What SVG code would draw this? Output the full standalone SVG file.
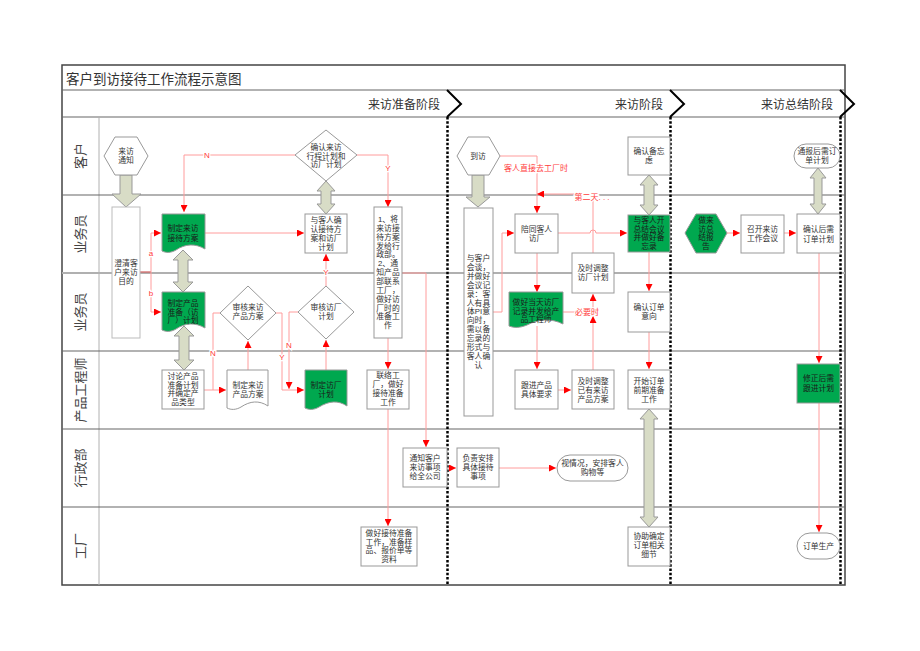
<svg xmlns="http://www.w3.org/2000/svg" width="920" height="651" viewBox="0 0 920 651">
<defs>
<marker id="ah" viewBox="0 0 10 10" refX="10" refY="5" markerWidth="7" markerHeight="7" orient="auto" markerUnits="userSpaceOnUse"><path d="M0,0 L10,5 L0,10 z" fill="#ff0000"/></marker>
<style>
text{font-family:"Liberation Sans","Noto Sans CJK SC",sans-serif;}
.t{font-size:7.8px;fill:#333;text-anchor:middle;}
.tg{font-size:7.8px;fill:#1a1a1a;text-anchor:middle;}
.box{fill:#fff;stroke:#999;stroke-width:1;}
.grn{fill:#00a84f;stroke:#999;stroke-width:1;}
.lane{stroke:#666;stroke-width:1.2;}
.lanel{stroke:#b0b0b0;stroke-width:2;}
.ll{font-size:13px;fill:#444;text-anchor:middle;dominant-baseline:central;}
.ph{font-size:12px;fill:#333;text-anchor:end;}
.sep{stroke:#000;stroke-width:2.5;stroke-dasharray:2.5 1.8;fill:none;}
.chev{stroke:#000;stroke-width:2;fill:none;}
.c{fill:none;stroke:#ff9c9c;stroke-width:1;}
.ca{fill:none;stroke:#ff9c9c;stroke-width:1;marker-end:url(#ah);}
.lb{font-size:8px;fill:#ff3b3b;text-anchor:middle;stroke:#fff;stroke-width:2.5;paint-order:stroke;}
.blk{fill:#d8dcc6;stroke:#999;stroke-width:1;}
</style>
</defs>
<rect x="0" y="0" width="920" height="651" fill="#fff"/>

<g id="frame">
<rect x="62" y="65" width="783" height="520" fill="none" stroke="#444" stroke-width="1.5"/>
<text x="66" y="84" style="font-size:13.5px;fill:#333;">客户到访接待工作流程示意图</text>
<line x1="62" y1="90" x2="845" y2="90" class="lane"/>
<line x1="62" y1="117" x2="845" y2="117" class="lane"/>
<text x="440" y="109" class="ph">来访准备阶段</text>
<text x="663" y="109" class="ph">来访阶段</text>
<text x="833" y="109" class="ph">来访总结阶段</text>
<path class="chev" d="M447,90 L461,104 L447,117"/>
<path class="chev" d="M670,90 L684,104 L670,117"/>
<path class="chev" d="M840,90 L854,104 L840,117"/>
</g>

<g id="lanes">
<line x1="99" y1="117" x2="99" y2="585" stroke="#b0b0b0" stroke-width="1"/>
<line x1="62" y1="195" x2="845" y2="195" class="lane"/>
<line x1="62" y1="273" x2="845" y2="273" class="lanel"/>
<line x1="62" y1="351" x2="845" y2="351" class="lane"/>
<line x1="62" y1="429" x2="845" y2="429" class="lane"/>
<line x1="62" y1="507" x2="845" y2="507" class="lane"/>
<text class="ll" transform="translate(80,156) rotate(-90)">客户</text>
<text class="ll" transform="translate(80,234) rotate(-90)">业务员</text>
<text class="ll" transform="translate(80,312) rotate(-90)">业务员</text>
<text class="ll" transform="translate(80,390) rotate(-90)">产品工程师</text>
<text class="ll" transform="translate(80,468) rotate(-90)">行政部</text>
<text class="ll" transform="translate(80,546) rotate(-90)">工厂</text>
<line class="sep" x1="447.5" y1="117" x2="447.5" y2="585"/>
<line class="sep" x1="670.5" y1="117" x2="670.5" y2="585"/>
<line class="sep" x1="840.5" y1="117" x2="840.5" y2="585"/>
</g>

<g id="block-arrows">
<polygon class="blk" points="120,175 132,175 132,194 141,194 126,207 112,194 120,194"/>
<polygon class="blk" points="326,181 335,191 331,191 331,204 335,204 326,214 317,204 321,204 321,191 317,191"/>
<polygon class="blk" points="183,250 193,260 188,260 188,282 193,282 183,292 173,282 178,282 178,260 173,260"/>
<polygon class="blk" points="184,326 194,336 189,336 189,360 194,360 184,370 174,360 179,360 179,336 174,336"/>
<polygon class="blk" points="472,175 484,175 484,197 490,197 478,207 466,197 472,197"/>
<polygon class="blk" points="649,175 658,185 654,185 654,205 658,205 649,215 640,205 644,205 644,185 640,185"/>
<polygon class="blk" points="818,168 826,178 822,178 822,204 826,204 818,214 810,204 814,204 814,178 810,178"/>
<polygon class="blk" points="649,409 658,419 654,419 654,517 658,517 649,527 640,517 644,517 644,419 640,419"/>
</g>

<g id="connectors">
<path class="ca" d="M295,155 H184 V212"/>
<text class="lb" x="207" y="158">N</text>
<path class="ca" d="M357,155 H388 V207"/>
<text class="lb" x="388" y="171">Y</text>
<path d="M140,272 H151" fill="none" stroke="#d06060" stroke-width="1.2"/>
<path class="ca" d="M151,272 V233 H161"/>
<path class="ca" d="M151,272 V312 H161"/>
<text class="lb" x="151" y="256">a</text>
<text class="lb" x="151" y="296">b</text>
<path class="ca" d="M205,233 H304"/>
<path class="c" d="M220,313 H213 V390"/>
<path class="ca" d="M204,390 H226"/>
<text class="lb" x="213" y="356">N</text>
<path class="ca" d="M276,313 H282 V390 H304"/>
<text class="lb" x="282" y="360">Y</text>
<path class="ca" d="M298,312 H289 V389"/>
<text class="lb" x="289" y="348">N</text>
<path class="ca" d="M248,370 V341"/>
<path class="ca" d="M326,370 V340"/>
<path class="ca" d="M326,286 V254"/>
<text class="lb" x="326" y="275">Y</text>
<path class="ca" d="M402,273 H426 V447"/>
<path class="ca" d="M388,338 V369"/>
<path class="ca" d="M388,409 V526"/>
<path class="ca" d="M447,468 H456"/>
<path class="ca" d="M499,468 H556"/>
<path class="ca" d="M500,156 H537 V213"/>
<text class="lb" x="536" y="171">客人直接去工厂时</text>
<path class="ca" d="M593,253 V194 H537"/>
<text class="lb" x="592" y="200">第二天. . .</text>
<path class="ca" d="M493,312 H502 V233 H514"/>
<path class="ca" d="M558,233 H590 A3,3 0 0 1 596,233 H627"/>
<path class="ca" d="M537,253 V292"/>
<path class="ca" d="M537,326 V369"/>
<path class="ca" d="M563,312 H593 V294"/>
<path class="ca" d="M593,370 V316"/>
<text class="lb" x="587" y="315">必要时</text>
<path class="ca" d="M558,390 H571"/>
<path class="ca" d="M649,252 V291"/>
<path class="ca" d="M649,332 V369"/>
<path class="ca" d="M727,233 H740"/>
<path class="ca" d="M784,233 H796"/>
<path class="ca" d="M819,253 V363"/>
<path class="ca" d="M819,403 V532"/>
</g>

<g id="n1"><polygon class="box" points="104,156 115,137 137,137 148,156 137,175 115,175"/>
<text class="t" x="126" y="154"><tspan x="126">来访</tspan><tspan x="126" dy="9">通知</tspan></text></g>

<g id="n2"><polygon class="box" points="326,130 357,155 326,181 295,155"/>
<text class="t" x="326" y="150"><tspan x="326">确认来访</tspan><tspan x="326" dy="8.7">行程计划和</tspan><tspan x="326" dy="8.7">访厂计划</tspan></text></g>

<g id="n3"><polygon class="box" points="457,156 468,137 489,137 500,156 489,175 468,175"/>
<text class="t" x="478" y="159">到访</text></g>

<g id="n4"><rect class="box" x="628" y="137" width="42" height="38"/>
<text class="t" x="649" y="154"><tspan x="649">确认备忘</tspan><tspan x="649" dy="9">虑</tspan></text></g>

<g id="n5"><rect class="box" x="794" y="144" width="46" height="24" rx="12"/>
<text class="t" x="817" y="154"><tspan x="817">通报后需订</tspan><tspan x="817" dy="8.5">单计划</tspan></text></g>

<g id="n6"><rect x="112" y="207" width="28" height="131" fill="#fff" stroke="#bbb"/>
<text class="t" x="126" y="266"><tspan x="126">澄清客</tspan><tspan x="126" dy="9">户来访</tspan><tspan x="126" dy="9">目的</tspan></text></g>

<g id="n7"><path class="grn" d="M162,214 H205 V249 C195,243 185,244 176,250 C171,253 166,253 162,251 Z"/>
<text class="tg" x="183" y="231"><tspan x="183">制定来访</tspan><tspan x="183" dy="9.5">接待方案</tspan></text></g>

<g id="n8"><rect class="box" x="305" y="214" width="42" height="39"/>
<text class="t" x="326" y="223"><tspan x="326">与客人确</tspan><tspan x="326" dy="9">认接待方</tspan><tspan x="326" dy="9">案和访厂</tspan><tspan x="326" dy="9">计划</tspan></text></g>

<g id="n9"><rect class="box" x="374" y="207" width="28" height="131"/>
<text class="t" x="388" y="222"><tspan x="388">1、将</tspan><tspan x="388" dy="8.85">来访接</tspan><tspan x="388" dy="8.85">待方案</tspan><tspan x="388" dy="8.85">发给行</tspan><tspan x="388" dy="8.85">政部。</tspan><tspan x="388" dy="8.85">2、通</tspan><tspan x="388" dy="8.85">知产品</tspan><tspan x="388" dy="8.85">部联系</tspan><tspan x="388" dy="8.85">工厂，</tspan><tspan x="388" dy="8.85">做好访</tspan><tspan x="388" dy="8.85">厂时的</tspan><tspan x="388" dy="8.85">准备工</tspan><tspan x="388" dy="8.85">作</tspan></text></g>

<g id="n10"><path class="grn" d="M162,292 H205 V328 C195,322 185,323 176,329 C171,332 166,332 162,330 Z"/>
<text class="tg" x="183" y="306"><tspan x="183">制定产品</tspan><tspan x="183" dy="8.7">准备（访</tspan><tspan x="183" dy="8.7">厂）计划</tspan></text></g>

<g id="n11"><polygon class="box" points="248,286 276,313 248,340 220,313"/>
<text class="t" x="248" y="310"><tspan x="248">审核来访</tspan><tspan x="248" dy="9">产品方案</tspan></text></g>

<g id="n12"><polygon class="box" points="326,286 354,312 326,339 298,312"/>
<text class="t" x="326" y="310"><tspan x="326">审核访厂</tspan><tspan x="326" dy="9">计划</tspan></text></g>

<g id="n13"><rect class="box" x="162" y="370" width="42" height="39"/>
<text class="t" x="183" y="379"><tspan x="183">讨论产品</tspan><tspan x="183" dy="8.7">准备计划</tspan><tspan x="183" dy="8.7">并确定产</tspan><tspan x="183" dy="8.7">品类型</tspan></text></g>

<g id="n14"><path class="box" d="M227,370 H268 V406 C259,400 250,401 241,407 C236,410 231,410 227,408 Z"/>
<text class="t" x="248" y="388"><tspan x="248">制定来访</tspan><tspan x="248" dy="8.7">产品方案</tspan></text></g>

<g id="n15"><path class="grn" d="M305,370 H347 V406 C338,400 329,401 319,407 C314,410 309,410 305,408 Z"/>
<text class="tg" x="326" y="388"><tspan x="326">制定访厂</tspan><tspan x="326" dy="8.7">计划</tspan></text></g>

<g id="n16"><rect class="box" x="367" y="370" width="42" height="39"/>
<text class="t" x="388" y="378"><tspan x="388">联络工</tspan><tspan x="388" dy="9">厂，做好</tspan><tspan x="388" dy="9">接待准备</tspan><tspan x="388" dy="9">工作</tspan></text></g>

<g id="n17"><rect class="box" x="403" y="448" width="44" height="39"/>
<text class="t" x="425" y="461"><tspan x="425">通知客户</tspan><tspan x="425" dy="9">来访事项</tspan><tspan x="425" dy="9">给全公司</tspan></text></g>

<g id="n18"><rect class="box" x="361" y="527" width="56" height="39"/>
<text class="t" x="389" y="536"><tspan x="389">做好接待准备</tspan><tspan x="389" dy="8.7">工作，准备样</tspan><tspan x="389" dy="8.7">品、报价单等</tspan><tspan x="389" dy="8.7">资料</tspan></text></g>

<g id="n19"><rect class="box" x="464" y="208" width="29" height="208"/>
<text class="t" x="478.5" y="261"><tspan x="478.5">与客户</tspan><tspan x="478.5" dy="8.9">会谈，</tspan><tspan x="478.5" dy="8.9">并做好</tspan><tspan x="478.5" dy="8.9">会议记</tspan><tspan x="478.5" dy="8.9">录：客</tspan><tspan x="478.5" dy="8.9">人有具</tspan><tspan x="478.5" dy="8.9">体PI意</tspan><tspan x="478.5" dy="8.9">向时，</tspan><tspan x="478.5" dy="8.9">需以备</tspan><tspan x="478.5" dy="8.9">忘录的</tspan><tspan x="478.5" dy="8.9">形式与</tspan><tspan x="478.5" dy="8.9">客人确</tspan><tspan x="478.5" dy="8.9">认</tspan></text></g>

<g id="n20"><rect class="box" x="515" y="214" width="43" height="39"/>
<text class="t" x="536.5" y="232"><tspan x="536.5">陪同客人</tspan><tspan x="536.5" dy="9">访厂</tspan></text></g>

<g id="n21"><rect class="grn" x="628" y="215" width="42" height="37"/>
<text class="tg" x="649" y="223"><tspan x="649">与客人开</tspan><tspan x="649" dy="8.7">总结会议</tspan><tspan x="649" dy="8.7">并做好备</tspan><tspan x="649" dy="8.7">忘录</tspan></text></g>

<g id="n22"><rect class="box" x="572" y="253" width="42" height="40"/>
<text class="t" x="593" y="271"><tspan x="593">及时调整</tspan><tspan x="593" dy="9">访厂计划</tspan></text></g>

<g id="n23"><path class="grn" d="M509,292 H563 V324 C551,318 539,319 527,325 C520,328 514,328 509,326 Z"/>
<text class="tg" x="536" y="305"><tspan x="536">做好当天访厂</tspan><tspan x="536" dy="8.7">记录并发给产</tspan><tspan x="536" dy="8.7">品工程师</tspan></text></g>

<g id="n24"><rect class="box" x="515" y="370" width="43" height="39"/>
<text class="t" x="536.5" y="388"><tspan x="536.5">跟进产品</tspan><tspan x="536.5" dy="9">具体要求</tspan></text></g>

<g id="n25"><rect class="box" x="572" y="370" width="42" height="39"/>
<text class="t" x="593" y="384"><tspan x="593">及时调整</tspan><tspan x="593" dy="9">已有来访</tspan><tspan x="593" dy="9">产品方案</tspan></text></g>

<g id="n26"><rect class="box" x="628" y="292" width="42" height="40"/>
<text class="t" x="649" y="310"><tspan x="649">确认订单</tspan><tspan x="649" dy="9">意向</tspan></text></g>

<g id="n27"><rect class="box" x="628" y="370" width="42" height="39"/>
<text class="t" x="649" y="384"><tspan x="649">开始订单</tspan><tspan x="649" dy="9">前期准备</tspan><tspan x="649" dy="9">工作</tspan></text></g>

<g id="n28"><rect class="box" x="457" y="448" width="42" height="39"/>
<text class="t" x="478" y="461"><tspan x="478">负责安排</tspan><tspan x="478" dy="9">具体接待</tspan><tspan x="478" dy="9">事项</tspan></text></g>

<g id="n29"><rect class="box" x="557" y="455" width="71" height="26" rx="13"/>
<text class="t" x="592.5" y="466"><tspan x="592.5">视情况，安排客人</tspan><tspan x="592.5" dy="9">购物等</tspan></text></g>

<g id="n30"><rect class="box" x="628" y="527" width="42" height="39"/>
<text class="t" x="649" y="539"><tspan x="649">协助确定</tspan><tspan x="649" dy="9">订单相关</tspan><tspan x="649" dy="9">细节</tspan></text></g>

<g id="n31"><polygon class="grn" points="685,233 696,214 716,214 727,233 716,253 696,253"/>
<text class="tg" x="706" y="223"><tspan x="706">做来</tspan><tspan x="706" dy="8.7">访总</tspan><tspan x="706" dy="8.7">结报</tspan><tspan x="706" dy="8.7">告</tspan></text></g>

<g id="n32"><rect class="box" x="741" y="215" width="43" height="38"/>
<text class="t" x="762.5" y="232"><tspan x="762.5">召开来访</tspan><tspan x="762.5" dy="9">工作会议</tspan></text></g>

<g id="n33"><rect class="box" x="797" y="214" width="43" height="39"/>
<text class="t" x="818.5" y="232"><tspan x="818.5">确认后需</tspan><tspan x="818.5" dy="9.5">订单计划</tspan></text></g>

<g id="n34"><rect class="grn" x="797" y="364" width="43" height="39"/>
<text class="tg" x="818.5" y="381"><tspan x="818.5">修正后需</tspan><tspan x="818.5" dy="9.5">跟进计划</tspan></text></g>

<g id="n35"><rect class="box" x="797" y="533" width="43" height="26" rx="13"/>
<text class="t" x="818.5" y="549">订单生产</text></g>
</svg>
